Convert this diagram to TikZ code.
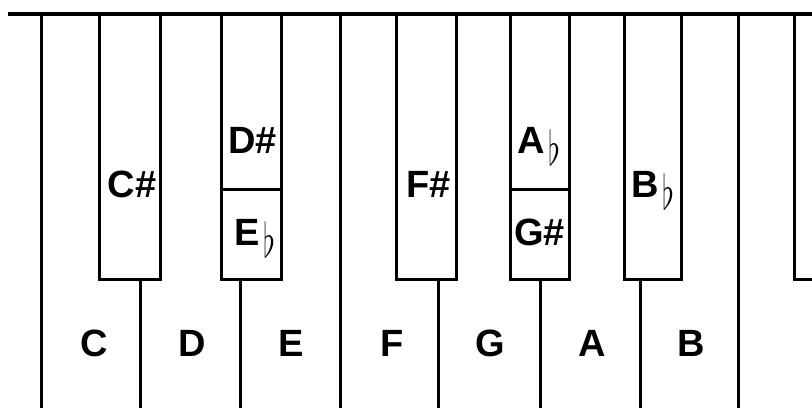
\documentclass[tikz,border=0pt]{standalone}
\usepackage{fontspec}
\setmainfont{Liberation Sans}
\newcommand{\fl}{\kern4pt\raisebox{-12pt}{\resizebox*{12pt}{36pt}{\raisebox{\depth}{$\flat$}}}}

\begin{document}
\begin{tikzpicture}[
  x=1pt,y=-1pt,
  keyline/.style={line width=3pt},
  topbar/.style={line width=4.5pt},
  blackkey/.style={keyline,fill=white},
  keyname/.style={font=\fontsize{38}{40}\selectfont\bfseries,inner sep=0pt,anchor=base}
]
\useasboundingbox (0,0) rectangle (812,408);
% long edges between white keys
\foreach \x in {41.7,340,738}
  \draw[keyline] (\x,14) -- (\x,408);
% short edges below the black keys
\foreach \x in {140.7,240,438,540,640}
  \draw[keyline] (\x,279) -- (\x,408);
% black keys
\draw[blackkey] (99,14) rectangle (160,279);
\draw[blackkey] (221.7,14) rectangle (281,279);
\draw[blackkey] (396,14) rectangle (456,279);
\draw[blackkey] (510,14) rectangle (569.5,279);
\draw[blackkey] (624,14) rectangle (681,279);
\draw[blackkey] (794,14) rectangle (830,279);
\draw[keyline] (221.7,189.3) -- (281,189.3);
\draw[keyline] (510,189.3) -- (569.5,189.3);
\draw[topbar] (8,14) -- (812,14);
% names of the black keys
\node[keyname] (cs) at (132,197) {C\#};
\node[keyname] (ds) at (252.5,153) {D\#};
\node[keyname] (eb) at (255,245) {E\fl};
\node[keyname] (fs) at (428.5,197) {F\#};
\node[keyname] (ab) at (539,153) {A\fl};
\node[keyname] (gs) at (539.5,245) {G\#};
\node[keyname] (bb) at (653,197) {B\fl};
% names of the white keys
\node[keyname] (c) at (94,356) {C};
\node[keyname] (d) at (192,356) {D};
\node[keyname] (e) at (291,356) {E};
\node[keyname] (f) at (392,356) {F};
\node[keyname] (g) at (490,356) {G};
\node[keyname] (a) at (592,356) {A};
\node[keyname] (b) at (691,356) {B};
\end{tikzpicture}
\end{document}
